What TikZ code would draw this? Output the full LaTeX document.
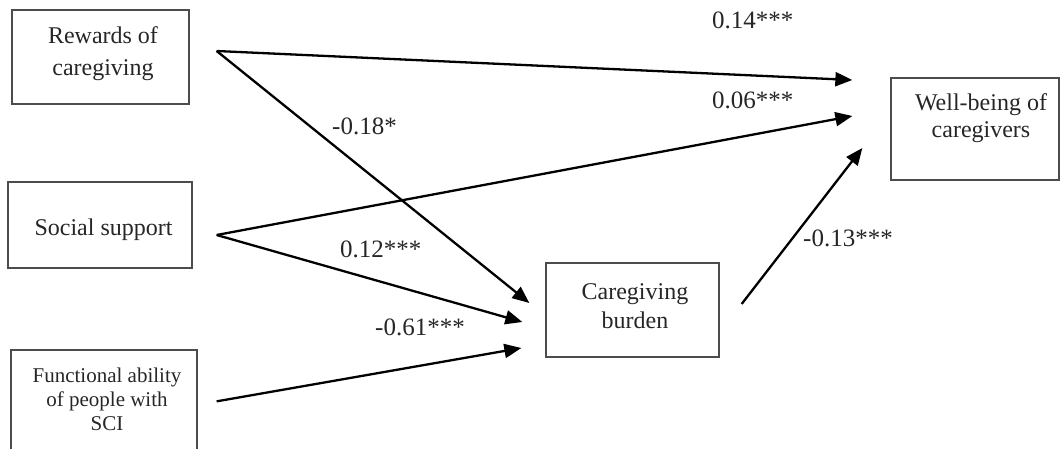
\documentclass[tikz,border=0pt]{standalone}
\usepackage{fontspec}
\setmainfont{Liberation Serif}
\usetikzlibrary{arrows.meta,calc}

\begin{document}
\begin{tikzpicture}[x=1pt,y=-1pt,
  box/.style={draw=black!70, line width=1.3pt, rectangle, inner sep=0pt},
  txt/.style={align=center, text=black!85, inner sep=0pt},
  coef/.style={anchor=base west, text=black!85, inner sep=0pt,
               font=\fontsize{25}{30}\selectfont},
  link/.style={line width=2.3pt, -{Triangle[length=17pt,width=14pt]}}
]
\useasboundingbox (0,0) rectangle (1060,449);
\clip (0,0) rectangle (1060,449);

% variable boxes
\node[box, minimum width=177pt, minimum height=94pt]  (rew) at (100.5,57) {};
\node[box, minimum width=184pt, minimum height=86pt]  (soc) at (100,225) {};
\node[box, minimum width=186pt, minimum height=120pt] (fun) at (104,410) {};
\node[box, minimum width=173pt, minimum height=94pt]  (bur) at (632.5,310) {};
\node[box, minimum width=168pt, minimum height=102pt] (wb)  at (975,129) {};

% box captions
\node[txt, font=\fontsize{24}{32}\selectfont] (rewt) at (103,54) {Rewards of\\caregiving};
\node[txt, font=\fontsize{24}{32}\selectfont] (soct) at (103.5,229.5) {Social support};
\node[txt, font=\fontsize{21}{24}\selectfont] (funt) at (107,399) {Functional ability\\of people with\\SCI};
\node[txt, font=\fontsize{24}{29}\selectfont] (burt) at (635,306) {Caregiving\\burden};
\node[txt, font=\fontsize{24}{27}\selectfont] (wbt) at (981,118) {Well-being of\\caregivers};

% paths
\draw[link] ($(rew.east)+(27,-6)$) -- ($(wb.west)+(-38,-49)$);
\draw[link] ($(rew.east)+(27,-6)$) -- ($(bur.west)+(-16,-7)$);
\draw[link] ($(soc.east)+(24,10)$) -- ($(wb.west)+(-38,-13)$);
\draw[link] ($(soc.east)+(24,10)$) -- ($(bur.west)+(-23,12)$);
\draw[link] ($(fun.north east)+(19,52)$) -- ($(bur.west)+(-24,38)$);
\draw[link] ($(bur.east)+(22,-6)$) -- ($(wb.west)+(-28,19)$);

% path coefficients
\node[coef] (c1) at (712,29)  {0.14***};
\node[coef] (c2) at (712,109) {0.06***};
\node[coef] (c3) at (332,135) {-0.18*};
\node[coef] (c4) at (340,258) {0.12***};
\node[coef] (c5) at (375,335) {-0.61***};
\node[coef] (c6) at (803,247) {-0.13***};
\end{tikzpicture}
\end{document}
